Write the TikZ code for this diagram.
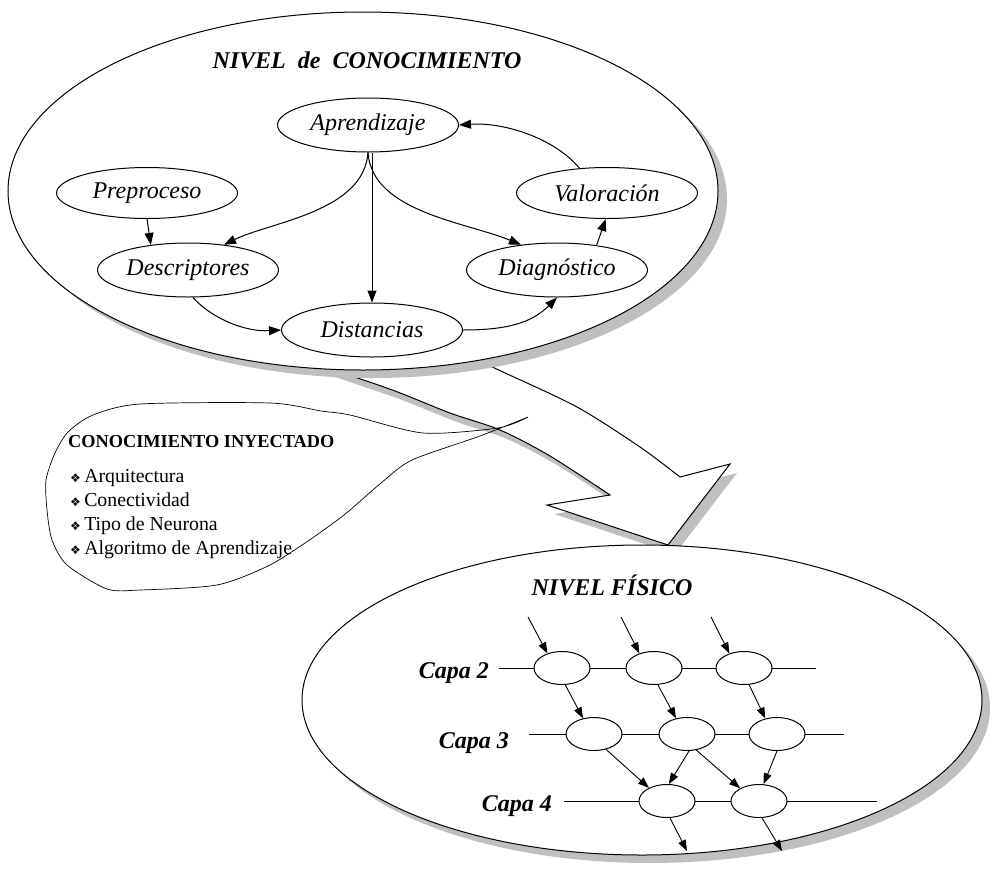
\documentclass[tikz,border=0pt]{standalone}
\usepackage{fontspec}
\setmainfont{Liberation Serif}
\newfontfamily\symfont{DejaVu Sans}
\usetikzlibrary{shapes.geometric,arrows.meta,calc}

% outline of the broad arrow between the two levels
\newcommand\bigarrowpath{plot[smooth,tension=0.5] coordinates {(280,352) (337,371) (395,391) (450,413) (500,430) (550,456) (610,495)}
  -- (547,505) -- (668,545) -- (730,464)
  -- plot[smooth,tension=0.5] coordinates {(680,477) (640,447) (577,407) (503,372) (460,352)} -- cycle}

\begin{document}
\begin{tikzpicture}[x=1pt,y=-1pt,
  proc/.style={ellipse,draw,line width=1pt,fill=white,minimum width=181pt,minimum height=54pt,
    inner sep=0pt,font=\fontsize{24}{28}\selectfont\itshape},
  neuron/.style={ellipse,draw,line width=1pt,fill=white,minimum width=56pt,minimum height=33pt,inner sep=0pt},
  flow/.style={line width=1pt,-{Triangle[length=12pt,width=9pt]}},
  link/.style={line width=0.9pt,-{Triangle[length=11pt,width=8pt]}},
  wire/.style={line width=0.8pt},
  shade/.style={fill=black!25,draw=none},
  level/.style={font=\fontsize{24}{28}\selectfont\bfseries\itshape,inner sep=0pt},
  capa/.style={font=\fontsize{24}{28}\selectfont\bfseries\itshape,anchor=east,inner sep=0pt},
  heading/.style={font=\fontsize{18.3}{20}\selectfont\bfseries,anchor=base west,inner sep=0pt},
  item/.style={font=\fontsize{19.8}{22}\selectfont,anchor=base west,inner sep=0pt},
]
\useasboundingbox (0,0) rectangle (993,876);

% broad arrow with its shadow
\fill[shade,shift={(7,9)}] \bigarrowpath;
\draw[line width=1pt,fill=white,line join=miter] \bigarrowpath;

% knowledge level
\fill[shade] (372,199) ellipse [x radius=355,y radius=179];
\draw[line width=1pt,fill=white] (363,191) ellipse [x radius=355,y radius=179];

% physical level
\fill[shade] (650,708) ellipse [x radius=340,y radius=155];
\draw[line width=1pt,fill=white] (642,700) ellipse [x radius=340,y radius=155];

% injected knowledge callout
\draw[line width=0.7pt] plot[smooth,tension=0.45] coordinates {(528,417) (498,428) (423,433) (350,415) (321,411) (270,403)
  (140,404) (93,415) (68,432) (55,453) (46,480) (47,510) (52,540) (67,565) (107,589) (140,590) (217,585)
  (268,566) (305,543) (344,515) (381,483) (412,460) (480,436) (528,417)};
\node[heading] (cih) at (68,447) {CONOCIMIENTO INYECTADO};
\node[item] (it1) at (70,482) {{\symfont\fontsize{12}{12}\selectfont ❖}\,Arquitectura};
\node[item] (it2) at (70,506) {{\symfont\fontsize{12}{12}\selectfont ❖}\,Conectividad};
\node[item] (it3) at (70,530) {{\symfont\fontsize{12}{12}\selectfont ❖}\,Tipo de Neurona};
\node[item] (it4) at (70,554) {{\symfont\fontsize{12}{12}\selectfont ❖}\,Algoritmo de Aprendizaje};

% knowledge level contents
\node[level] (con) at (367,60) {NIVEL\ \ de\ \ CONOCIMIENTO};
\node[proc] (apr) at (368,125) {Aprendizaje};
\node[proc,minimum height=51pt] (pre) at (147,193) {Preproceso};
\node[proc,minimum height=51pt] (val) at (607,193) {Valoración};
\node[proc] (desc) at (188,270) {Descriptores};
\node[proc] (diag) at (557,270) {Diagnóstico};
\node[proc] (dist) at (372,330) {Distancias};

\draw[flow] (dist.north |- apr.south) -- (dist.north);
\draw[flow] (apr.south) .. controls (364,212) and (270,222) .. (desc.35);
\draw[flow] (apr.south) .. controls (372,212) and (466,222) .. (diag.145);
\draw[flow] (pre.south) -- (desc.146);
\draw[flow] (desc.-80) .. controls +(20,22) and +(-35,2) .. (dist.west);
\draw[flow] (dist.east) .. controls +(45,0) and +(-25,25) .. (diag.south);
\draw[flow] (diag.32) -- (val.-93);
\draw[flow] (val.138) .. controls +(-25,-30) and +(45,-3) .. (apr.east);

% physical level contents
\node[level] (fis) at (612,585) {NIVEL FÍSICO};

\coordinate (r2s) at (499,668); \coordinate (r2e) at (816,668);
\coordinate (r3s) at (529,734); \coordinate (r3e) at (844,734);
\coordinate (r4s) at (564,801); \coordinate (r4e) at (877,801);
\draw[wire] (r2s) -- (r2e);
\draw[wire] (r3s) -- (r3e);
\draw[wire] (r4s) -- (r4e);

\node[capa] (c2) at (489,673) {Capa 2};
\node[capa] (c3) at (509,743) {Capa 3};
\node[capa] (c4) at (552,806) {Capa 4};

\node[neuron] (n21) at (562,668) {};
\node[neuron] (n22) at (654,668) {};
\node[neuron] (n23) at (744,668) {};
\node[neuron] (n31) at (594,734) {};
\node[neuron] (n32) at (687,734) {};
\node[neuron] (n33) at (777,734) {};
\node[neuron] (n41) at (667,801) {};
\node[neuron] (n42) at (759,801) {};

\coordinate (in1) at (528,617);
\coordinate (in2) at (621,617);
\coordinate (in3) at (711,617);
\coordinate (out1) at (687,851);
\coordinate (out2) at (782,851);

\draw[link] (in1) -- (n21.135);
\draw[link] (in2) -- (n22.135);
\draw[link] (in3) -- (n23.135);
\draw[link] (n21.-79) -- (n31.125);
\draw[link] (n22.-77) -- (n32.125);
\draw[link] (n23.-73) -- (n33.127);
\draw[link] (n31.-52) -- (n41.144);
\draw[link] (n32.-83) -- (n41.84);
\draw[link] (n32.-60) -- (n42.146);
\draw[link] (n33.-90) -- (n42.75);
\draw[link] (n41.-80) -- (out1);
\draw[link] (n42.-80) -- (out2);
\end{tikzpicture}
\end{document}
